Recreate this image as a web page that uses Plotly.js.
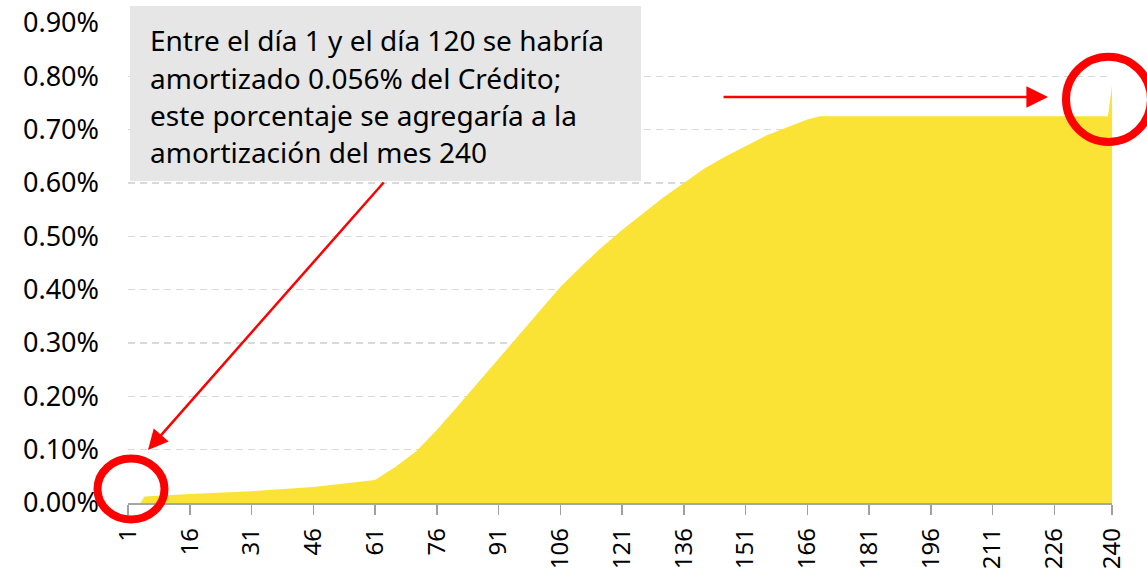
<!DOCTYPE html>
<html>
<head>
<meta charset="utf-8">
<script src="https://cdn.plot.ly/plotly-3.0.1.min.js"></script>
<style>html,body{margin:0;padding:0;background:#fff;}#chart{width:1147px;height:571px;}</style>
</head>
<body>
<div id="chart"></div>
<script>
// Month of the credit (x) and monthly amortization as % of the credit (y)
const months = [1, 4, 5, 16, 31, 46, 61, 66, 71, 76, 81, 86, 91, 96, 101, 106, 111, 116, 121, 126, 131, 136, 141, 146, 151, 156, 161, 166, 169, 239, 240];
const amortPct = [0, 0, 0.012, 0.017, 0.022, 0.030, 0.043, 0.068, 0.097, 0.137, 0.181, 0.226, 0.270, 0.316, 0.362, 0.405, 0.443, 0.479, 0.512, 0.543, 0.573, 0.600, 0.627, 0.649, 0.669, 0.689, 0.704, 0.719, 0.725, 0.725, 0.782];
const xTickVals = [1, 16, 31, 46, 61, 76, 91, 106, 121, 136, 151, 166, 181, 196, 211, 226, 240];
const xTickText = ["1", "16", "31", "46", "61", "76", "91", "106", "121", "136", "151", "166", "181", "196", "211", "226", "240"];
const yTickVals = [0, 0.1, 0.2, 0.3, 0.4, 0.5, 0.6, 0.7, 0.8, 0.9];
const yTickText = ["0.00%", "0.10%", "0.20%", "0.30%", "0.40%", "0.50%", "0.60%", "0.70%", "0.80%", "0.90%"];
const noteLines = [
  "Entre el día 1 y el día 120 se habría",
  "amortizado 0.056% del Crédito;",
  "este porcentaje se agregaría a la",
  "amortización del mes 240"
];

const W = 1147, H = 571;
const L = 128, R = 1112, T = 23, B = 503;
const px = x => (x - L) / (R - L);
const py = y => (B - y) / (B - T);

const trace = {
  x: months, y: amortPct, type: 'scatter', mode: 'lines',
  fill: 'tozeroy', fillcolor: '#fbe335', line: {width: 0, color: '#fbe335'},
  hoverinfo: 'skip'
};

const annotations = [];
const centers = [40, 77.5, 115, 152];
noteLines.forEach((t, i) => {
  annotations.push({
    xref: 'paper', yref: 'paper', x: px(148), y: py(centers[i]),
    xanchor: 'left', yanchor: 'middle', showarrow: false, text: t,
    font: {family: 'Noto Sans', size: 28, color: '#000'}
  });
});
annotations.push({
  xref: 'paper', yref: 'paper', x: px(148), y: py(450), text: '',
  showarrow: true, ax: 237, ay: -269, arrowhead: 2, arrowsize: 1.6,
  arrowwidth: 2.5, arrowcolor: '#ff0000', standoff: 0
});
annotations.push({
  xref: 'paper', yref: 'paper', x: px(1048), y: py(97), text: '',
  showarrow: true, ax: -326, ay: 0, arrowhead: 2, arrowsize: 1.6,
  arrowwidth: 2.7, arrowcolor: '#ff0000', standoff: 0
});

const shapes = [
  {type: 'rect', xref: 'paper', yref: 'paper', x0: px(130), x1: px(641), y0: py(181), y1: py(6),
   fillcolor: '#e6e6e6', line: {width: 0}, layer: 'above'},
  {type: 'circle', xref: 'paper', yref: 'paper', x0: px(97.5), x1: px(164.5), y0: py(519.5), y1: py(458.5),
   line: {color: '#ff0000', width: 8}, layer: 'above'},
  {type: 'circle', xref: 'paper', yref: 'paper', x0: px(1066), x1: px(1151), y0: py(142), y1: py(56.7),
   line: {color: '#ff0000', width: 8}, layer: 'above'}
];

const layout = {
  width: W, height: H,
  margin: {l: L, r: W - R, t: T, b: H - B},
  paper_bgcolor: '#fff', plot_bgcolor: '#fff',
  showlegend: false,
  font: {family: 'Noto Sans', size: 26, color: '#000'},
  xaxis: {
    type: 'linear', range: [1, 240], tickmode: 'array', tickvals: xTickVals, ticktext: xTickText,
    tickangle: -90, ticks: 'outside', ticklen: 10, tickwidth: 1.5, tickcolor: '#a0a0a0',
    showline: true, linecolor: '#a6a6a6', linewidth: 1.5, showgrid: false, zeroline: false,
    tickfont: {family: 'Noto Sans', size: 24, color: '#000'}, ticklabelstandoff: 4, fixedrange: true
  },
  yaxis: {
    range: [0, 0.9], tickmode: 'array', tickvals: yTickVals, ticktext: yTickText,
    showgrid: true, gridcolor: '#d9d9d9', gridwidth: 1.5, griddash: '7px,5px',
    zeroline: false, showline: false, ticks: '',
    tickfont: {family: 'Noto Sans', size: 27, color: '#000'}, ticklabelstandoff: 28, fixedrange: true
  },
  shapes: shapes,
  annotations: annotations
};

Plotly.newPlot('chart', [trace], layout, {displayModeBar: false, staticPlot: true});
</script>
</body>
</html>
